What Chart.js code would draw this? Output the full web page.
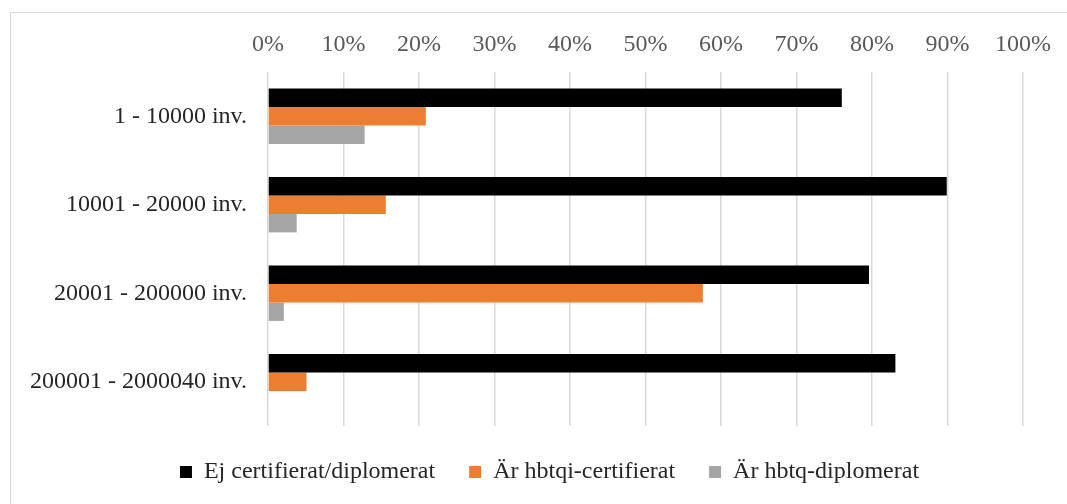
<!DOCTYPE html>
<html>
<head>
<meta charset="utf-8">
<script src="https://cdn.jsdelivr.net/npm/chart.js@4/dist/chart.umd.min.js"></script>
<style>
	html, body { margin: 0; padding: 0; background: #fff; overflow: hidden; }
	#ram { position: absolute; left: 10px; top: 12px; width: 1100px; height: 520px; border: 1px solid #d9d9d9; box-sizing: border-box; }
	#wrap { position: absolute; left: 0; top: 0; width: 1067px; height: 504px; }
</style>
</head>
<body>
<div id="ram"></div>
<div id="wrap"><canvas id="graficoHbtq"></canvas></div>
<script>
var kategorier = ['1 - 10000 inv.', '10001 - 20000 inv.', '20001 - 200000 inv.', '200001 - 2000040 inv.'];
var ejCertifierat = [76.0, 89.9, 79.6, 83.1];
var hbtqiCertifierat = [20.9, 15.6, 57.6, 5.1];
var hbtqDiplomerat = [12.8, 3.8, 2.1, 0];
var procentTicks = [0, 10, 20, 30, 40, 50, 60, 70, 80, 90, 100];

var Hbtq = Hbtq || {};

Hbtq.Grafik = (function() {

	function Grafik() {
		this.ctx = document.getElementById('graficoHbtq').getContext('2d');
	}

	// legenden i originalet sitter lite till höger om diagramytans mitt
	var flyttaLegend = {
		id: 'flyttaLegend',
		afterLayout: function(chart) {
			chart.legend.left += 33;
			chart.legend.right += 33;
		}
	};

	Grafik.prototype.iniciar = function() {
		var typsnitt = "'Liberation Serif', 'Times New Roman', serif";
		var fontSize = 24;

		new Chart(this.ctx, {
			type: 'bar',
			data: {
				labels: kategorier,
				datasets: [{
					label: 'Ej certifierat/diplomerat',
					backgroundColor: '#000000',
					data: ejCertifierat
				}, {
					label: 'Är hbtqi-certifierat',
					backgroundColor: '#ED7D31',
					data: hbtqiCertifierat
				}, {
					label: 'Är hbtq-diplomerat',
					backgroundColor: '#A5A5A5',
					data: hbtqDiplomerat
				}]
			},
			plugins: [flyttaLegend],
			options: {
				indexAxis: 'y',
				responsive: false,
				animation: false,
				devicePixelRatio: 1,
				categoryPercentage: 0.625,
				barPercentage: 1,
				layout: { padding: { left: 10, right: 44, top: 20, bottom: 10 } },
				plugins: {
					tooltip: { enabled: false },
					legend: {
						position: 'bottom',
						labels: {
							color: '#262626',
							font: { family: typsnitt, size: fontSize },
							boxWidth: 12,
							boxHeight: 12,
							padding: 34
						}
					}
				},
				scales: {
					x: {
						position: 'top',
						min: 0,
						max: 100,
						afterBuildTicks: function(scale) {
							scale.ticks = procentTicks.map(function(v) { return { value: v }; });
						},
						afterFit: function(scale) { scale.height = 52; },
						ticks: {
							color: '#595959',
							font: { family: typsnitt, size: fontSize },
							padding: 13,
							maxRotation: 0,
							callback: function(v) { return v + '%'; }
						},
						grid: { color: '#d9d9d9', lineWidth: 1.5, drawTicks: false },
						border: { display: false }
					},
					y: {
						afterFit: function(scale) { scale.width = 258; },
						ticks: {
							color: '#262626',
							font: { family: typsnitt, size: fontSize },
							padding: 13
						},
						grid: { display: false },
						border: { display: false }
					}
				}
			}
		});
	};

	return Grafik;
}());

(function() {
	var canvas = document.getElementById('graficoHbtq');
	canvas.width = 1067;
	canvas.height = 504;
	var grafik = new Hbtq.Grafik();
	grafik.iniciar();
}());
</script>
</body>
</html>
